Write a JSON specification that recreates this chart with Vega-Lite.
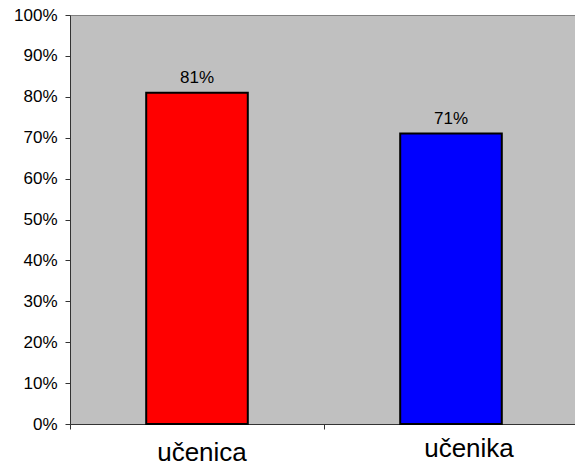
{
  "$schema": "https://vega.github.io/schema/vega-lite/v6.json",
  "autosize": "none",
  "padding": {"left": 70, "top": 15, "right": 0, "bottom": 47},
  "width": 508,
  "height": 409,
  "background": "white",
  "config": {
    "view": {"fill": "#c0c0c0", "stroke": "#808080", "strokeWidth": 1},
    "font": "Liberation Sans"
  },
  "data": {"values": [
    {"grupa": "učenica", "vrijednost": 0.81},
    {"grupa": "učenika", "vrijednost": 0.71}
  ]},
  "encoding": {
    "x": {
      "field": "grupa", "type": "nominal", "sort": null,
      "scale": {"paddingInner": 0.6, "paddingOuter": 0.3},
      "axis": {
        "title": null, "labelAngle": 0, "labelFontSize": 26, "labelColor": "#000",
        "labelBaseline": "alphabetic", "bandPosition": -0.75,
        "labelPadding": {"condition": {"test": "datum.value === 'učenika'", "value": 27}, "value": 31},
        "labelOffset": {"condition": {"test": "datum.value === 'učenika'", "value": 18}, "value": 5},
        "tickColor": "#333", "tickSize": 5, "domainColor": "#333",
        "labelFont": "Liberation Sans"
      }
    },
    "y": {
      "field": "vrijednost", "type": "quantitative",
      "scale": {"domain": [0, 1], "nice": false},
      "axis": {
        "title": null, "format": ".0%", "values": [0,0.1,0.2,0.3,0.4,0.5,0.6,0.7,0.8,0.9,1],
        "grid": false, "labelFontSize": 17, "labelColor": "#000", "labelPadding": 8,
        "tickColor": "#333", "tickSize": 5, "domainColor": "#333",
        "labelFont": "Liberation Sans"
      }
    }
  },
  "layer": [
    {
      "mark": {"type": "bar", "stroke": "#000", "strokeWidth": 2},
      "encoding": {
        "color": {"field": "grupa", "type": "nominal", "sort": null,
          "scale": {"range": ["#ff0000", "#0000ff"]}, "legend": null}
      }
    },
    {
      "mark": {"type": "text", "baseline": "alphabetic", "dy": -10, "fontSize": 17, "color": "#000", "font": "Liberation Sans"},
      "encoding": {"text": {"field": "vrijednost", "type": "quantitative", "format": ".0%"}}
    }
  ]
}
